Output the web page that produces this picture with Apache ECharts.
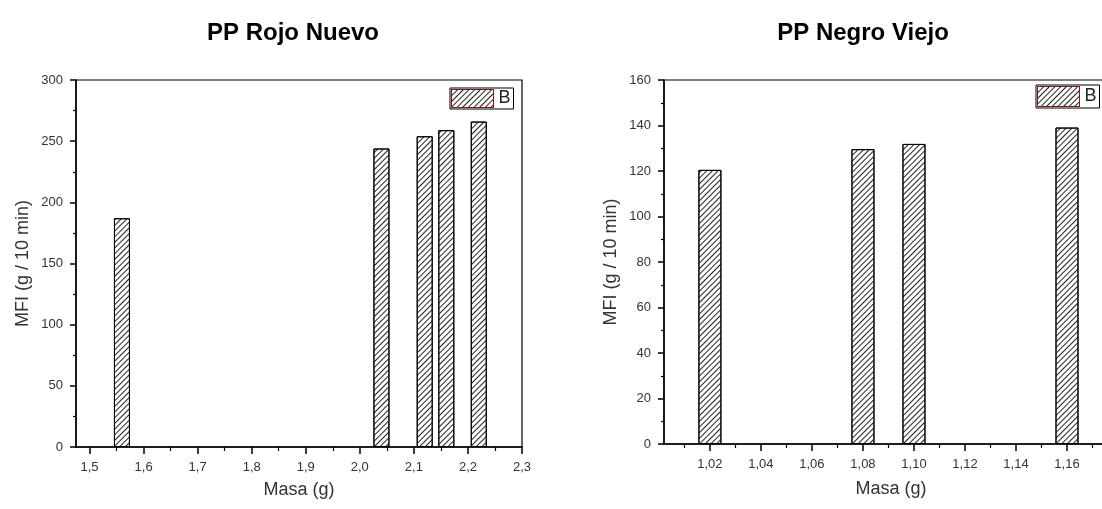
<!DOCTYPE html>
<html>
<head>
<meta charset="utf-8">
<script src="https://cdn.jsdelivr.net/npm/echarts@6/dist/echarts.min.js"></script>
<style>
  html, body { margin: 0; padding: 0; background: #fff; }
  #main { width: 1102px; height: 509px; }
</style>
</head>
<body>
<div id="main"></div>
<script>
// PP Rojo Nuevo
var rojoMasa = [1.56, 2.04, 2.12, 2.16, 2.22];
var rojoMFI = [187, 244, 254, 259, 266];
var rojoTicks = [1.5, 1.6, 1.7, 1.8, 1.9, 2.0, 2.1, 2.2, 2.3];
var rojoMinor = [1.55, 1.65, 1.75, 1.85, 1.95, 2.05, 2.15, 2.25];

// PP Negro Viejo
var negroMasa = [1.02, 1.08, 1.10, 1.16];
var negroMFI = [120.5, 129.6, 131.9, 139.1];
var negroTicks = [1.02, 1.04, 1.06, 1.08, 1.10, 1.12, 1.14, 1.16];
var negroMinor = [1.01, 1.03, 1.05, 1.07, 1.09, 1.11, 1.13, 1.15, 1.17];

var chart = echarts.init(document.getElementById('main'));
var FONT = 'Liberation Sans, Arial, sans-serif';

function pairs(xs, ys) {
    return xs.map(function(x, i) { return [x, ys[i]]; });
}

// "////" hatching
var hatch = {
    symbol: 'rect',
    symbolSize: 1,
    color: '#222',
    dashArrayX: [1, 0],
    dashArrayY: [1, 3],
    rotation: -Math.PI / 4
};

function mainX(grid, min, max, ticks, digits, gap) {
    return {
        type: 'value', gridIndex: grid, position: 'bottom', min: min, max: max,
        name: 'Masa (g)', nameLocation: 'middle', nameGap: gap,
        nameTextStyle: { fontFamily: FONT, fontSize: 18, color: '#333' },
        splitLine: { show: false },
        axisLine: { onZero: false, lineStyle: { color: '#000', width: 1.5 } },
        axisTick: { customValues: ticks, length: 7, lineStyle: { color: '#000', width: 1.5 } },
        axisLabel: {
            customValues: ticks, margin: 14, fontFamily: FONT, fontSize: 13, color: '#333',
            formatter: function(v) { return v.toFixed(digits).replace('.', ','); }
        }
    };
}

function minorX(grid, min, max, ticks) {
    return {
        type: 'value', gridIndex: grid, position: 'bottom', min: min, max: max,
        splitLine: { show: false },
        axisLine: { show: false, onZero: false },
        axisTick: { customValues: ticks, length: 4, lineStyle: { color: '#000', width: 1.2 } },
        axisLabel: { show: false }
    };
}

function mainY(grid, max, interval) {
    return {
        type: 'value', gridIndex: grid, min: 0, max: max, interval: interval,
        name: 'MFI (g / 10 min)', nameLocation: 'middle', nameGap: 44,
        nameTextStyle: { fontFamily: FONT, fontSize: 18, color: '#333' },
        splitLine: { show: false },
        axisLine: { lineStyle: { color: '#000', width: 1.5 } },
        axisTick: { length: 6, lineStyle: { color: '#000', width: 1.5 } },
        minorTick: { show: true, splitNumber: 2, length: 3, lineStyle: { color: '#000', width: 1.2 } },
        axisLabel: { margin: 13, fontFamily: FONT, fontSize: 13, color: '#333' }
    };
}

function legend(left, top, h) {
    return {
        left: left, top: top, data: ['B'], icon: 'rect',
        itemWidth: 42, itemHeight: h, padding: [1, 3, 1, 1],
        borderColor: '#000', borderWidth: 1, selectedMode: false,
        itemStyle: { borderWidth: 1, borderColor: '#7a1c1c' },
        textStyle: { fontFamily: FONT, fontSize: 18, color: '#222' }
    };
}

var option = {
    animation: false,
    backgroundColor: '#fff',
    title: [
        { text: 'PP Rojo Nuevo', left: 288, top: 16, textAlign: 'center',
          textStyle: { fontFamily: FONT, fontSize: 24, fontWeight: 'bold', color: '#000' } },
        { text: 'PP Negro Viejo', left: 858, top: 16, textAlign: 'center',
          textStyle: { fontFamily: FONT, fontSize: 24, fontWeight: 'bold', color: '#000' } }
    ],
    legend: [legend(450, 88, 18), legend(1036, 85, 20)],
    grid: [
        { left: 76, top: 80, right: 580, bottom: 62, outerBoundsMode: 'none',
          show: true, borderColor: '#000', borderWidth: 1.2 },
        // the original plot runs past the right edge of the picture
        { left: 664, top: 80, width: 454, bottom: 65, outerBoundsMode: 'none',
          show: true, borderColor: '#000', borderWidth: 1.2 }
    ],
    xAxis: [
        mainX(0, 1.475, 2.3, rojoTicks, 1, 34),
        minorX(0, 1.475, 2.3, rojoMinor),
        mainX(1, 1.002, 1.18, negroTicks, 2, 36),
        minorX(1, 1.002, 1.18, negroMinor)
    ],
    yAxis: [mainY(0, 300, 50), mainY(1, 160, 20)],
    series: [
        {
            name: 'B', type: 'bar', xAxisIndex: 0, yAxisIndex: 0, barWidth: 16,
            data: pairs(rojoMasa, rojoMFI),
            itemStyle: { color: '#fff', borderColor: '#000', borderWidth: 1, decal: hatch }
        },
        {
            name: 'B', type: 'bar', xAxisIndex: 2, yAxisIndex: 1, barWidth: 23,
            data: pairs(negroMasa, negroMFI),
            itemStyle: { color: '#fff', borderColor: '#000', borderWidth: 1, decal: hatch }
        }
    ]
};

chart.setOption(option);
</script>
</body>
</html>
